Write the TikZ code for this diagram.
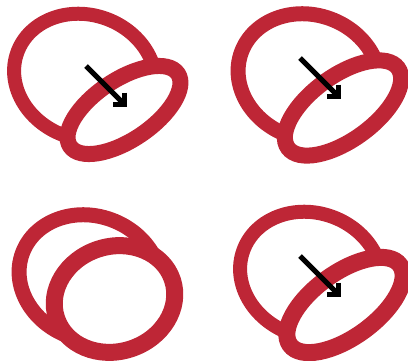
\documentclass[tikz,border=0pt]{standalone}
\usetikzlibrary{arrows.meta}
\definecolor{ringred}{RGB}{190,38,54}
\tikzset{
  backring/.style={draw=ringred,line width=14pt},
  frontring/.style={draw=ringred,fill=white,line width=16pt},
  mvarrow/.style={->,line width=5pt,black},
}
\begin{document}
\begin{tikzpicture}[>={Straight Barb[angle=90:12pt]},x=1pt,y=1pt]
  \useasboundingbox (0,0) rectangle (408,360);
  \clip (0,0) rectangle (408,360);
  % back ring first, front ring covers it
  \foreach \bx/\by/\bw/\fx/\fy/\fa/\fb/\fr/\fw in {
      85/283/14/124/250/65/30/34/16,
      309/283/15/343/252/68/32/36/16,
      90/82/15/114.5/61/61/52.5/18/17,
      311/85/14/345/55/68/32/36/17} {
    \draw[backring,line width=\bw pt,rotate around={-20:(\bx,\by)}]
      (\bx,\by) ellipse [x radius=72,y radius=62];
    \draw[frontring,line width=\fw pt,rotate around={\fr:(\fx,\fy)}]
      (\fx,\fy) ellipse [x radius=\fa,y radius=\fb];
  }
  \coordinate (tailA) at (86,294);  \coordinate (tipA) at (127,253);
  \coordinate (tailB) at (300,302); \coordinate (tipB) at (341,261);
  \coordinate (tailD) at (300,104); \coordinate (tipD) at (341,63);
  \draw[mvarrow] (tailA) -- (tipA);
  \draw[mvarrow] (tailB) -- (tipB);
  \draw[mvarrow] (tailD) -- (tipD);
\end{tikzpicture}
\end{document}
